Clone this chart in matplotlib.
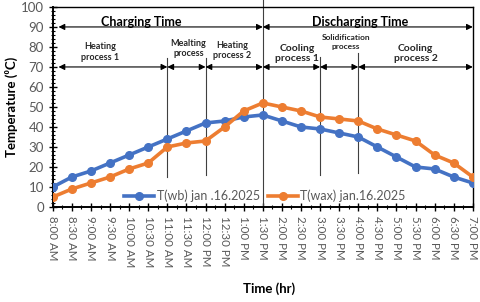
import matplotlib
matplotlib.use("Agg")
import matplotlib.pyplot as plt
from matplotlib.ticker import MultipleLocator

plt.rcParams['font.family'] = ['Lato', 'DejaVu Sans']

times = ["8:00 AM", "8:30 AM", "9:00 AM", "9:30 AM", "10:00 AM", "10:30 AM",
         "11:00 AM", "11:30 AM", "12:00 PM", "12:30 PM", "1:00 PM", "1:30 PM",
         "2:00 PM", "2:30 PM", "3:00 PM", "3:30 PM", "4:00 PM", "4:30 PM",
         "5:00 PM", "5:30 PM", "6:00 PM", "6:30 PM", "7:00 PM"]
t_wb = [10, 15, 18, 22, 26, 30, 34, 38, 42, 43, 45, 46,
        43, 40, 39, 37, 35, 30, 25, 20, 19, 15, 12]
t_wax = [5, 9, 12, 15, 19, 22, 30, 32, 33, 40, 48, 52,
         50, 48, 45, 44, 43, 39, 36, 33, 26, 22, 15]

phase_bounds = [0, 11, 22]
phase_labels = ["Charging Time", "Discharging Time"]
proc_bounds = [0, 6, 8, 11, 14, 16, 22]
proc_labels = ["Heating\nprocess 1", "Mealting\nprocess", "Heating\nprocess 2",
               "Cooling\nprocess 1", "Solidification\nprocess", "Cooling\nprocess 2"]

fig = plt.figure(figsize=(4.8, 3.02), dpi=100)
ax = fig.add_axes([0.110, 0.3146, 0.875, 0.6624])

x = list(range(len(times)))
ax.plot(x, t_wb, color='#4472C4', lw=2.6, marker='o', ms=5.5,
        label='T(wb) jan .16.2025', zorder=3)
ax.plot(x, t_wax, color='#ED7D31', lw=2.6, marker='o', ms=5.5,
        label='T(wax) jan.16.2025', zorder=3)

ax.set_xlim(0, 22)
ax.set_ylim(0, 100)
ax.set_xticks(x)
ax.set_xticklabels(times, rotation=-90, fontsize=8.3, color='#595959')
ax.xaxis.set_minor_locator(MultipleLocator(0.5))
ax.yaxis.set_major_locator(MultipleLocator(10))
ax.yaxis.set_minor_locator(MultipleLocator(2))
ax.tick_params(axis='y', labelsize=9.5, labelcolor='#595959')
ax.tick_params(which='major', direction='inout', length=6, width=1, color='black')
ax.tick_params(which='minor', direction='inout', length=3, width=0.8, color='black')
for s in ax.spines.values():
    s.set_color('black')
    s.set_linewidth(1.0)
ax.spines['left'].set_linewidth(1.4)
ax.spines['bottom'].set_linewidth(1.4)

ax.set_ylabel('Temperature (⁰C)', fontsize=9.5, fontweight='bold')
ax.yaxis.set_label_coords(-0.083, 0.5)
fig.text(0.56, 0.045, 'Time (hr)', ha='center', va='center', fontsize=9.5,
         fontweight='bold')

# phase arrows
arrow_kw = dict(arrowstyle='<|-|>', color='black', lw=0.8, mutation_scale=9,
                shrinkA=0, shrinkB=0)
for i in range(len(phase_labels)):
    x1, x2 = phase_bounds[i], phase_bounds[i + 1]
    if x1 == 0:
        x1 = 0.3
    ax.annotate('', xy=(x2, 90), xytext=(x1, 90), arrowprops=arrow_kw, zorder=4)
ax.text(4.65, 92.3, phase_labels[0], ha='center', va='center', fontsize=9,
        fontweight='bold')
ax.text(16.1, 92.3, phase_labels[1], ha='center', va='center', fontsize=9,
        fontweight='bold')

for i in range(len(proc_labels)):
    x1, x2 = proc_bounds[i], proc_bounds[i + 1]
    if x1 == 0:
        x1 = 0.3
    ax.annotate('', xy=(x2, 70), xytext=(x1, 70), arrowprops=arrow_kw, zorder=4)

proc_pos = [(2.5, 77.5), (7.1, 79.2), (9.4, 78.2), (12.8, 76.8), (15.35, 82.5), (19.0, 76.8)]
proc_sizes = [6.5, 6.5, 6.5, 7.5, 6.0, 7.5]
for (px, py), lab, fs in zip(proc_pos, proc_labels, proc_sizes):
    ax.text(px, py, lab, ha='center', va='center', fontsize=fs,
            fontweight='bold', color='#262626', linespacing=1.2)

# vertical separators
ax.plot([11, 11], [0, 103.5], color='#404040', lw=0.8, clip_on=False, zorder=2)
sep = [(6, 74.5, 15), (8, 74.5, 16), (14, 75, 16), (16, 77, 17)]
for sx, ytop, ybot in sep:
    ax.plot([sx, sx], [ybot, ytop], color='#404040', lw=0.8, zorder=2)

ax.legend(loc='center', bbox_to_anchor=(0.505, 0.055), ncol=2, frameon=False,
          fontsize=9, labelcolor='#595959', handlelength=2.4, columnspacing=0.6,
          handletextpad=0.2, borderpad=0.1)

fig.savefig('out.png', dpi=100)
